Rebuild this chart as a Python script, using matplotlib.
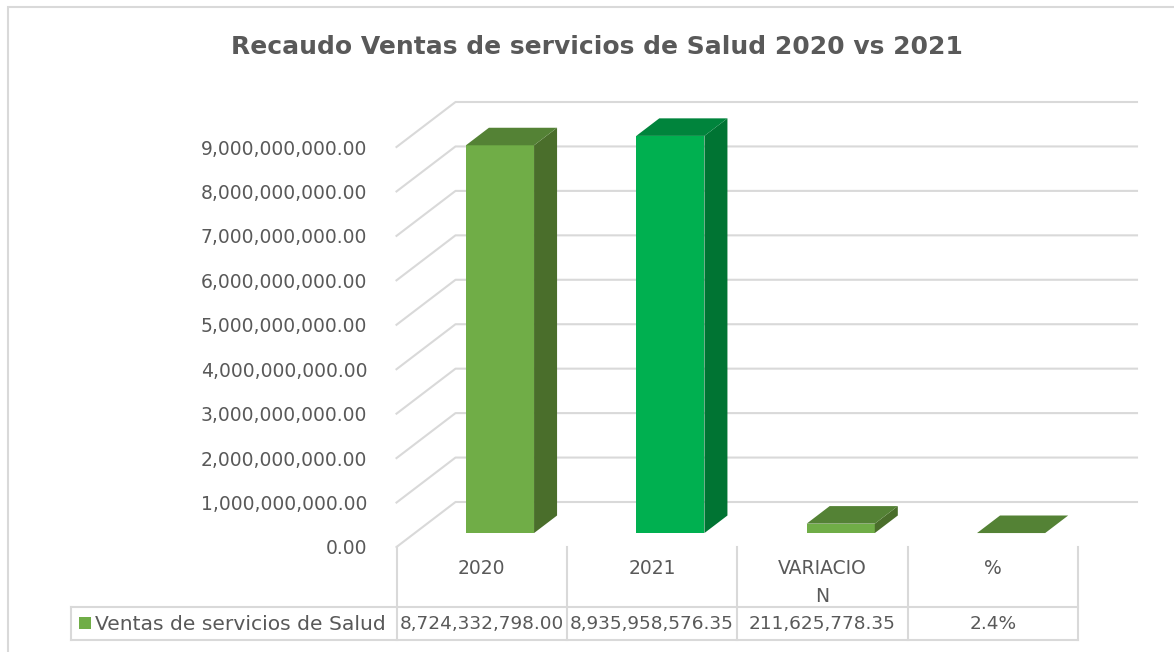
import numpy as np
import matplotlib
matplotlib.use("Agg")
import matplotlib.pyplot as plt
from matplotlib.patches import Polygon, Rectangle

TITLE = "Recaudo Ventas de servicios de Salud 2020 vs 2021"
SERIES = "Ventas de servicios de Salud"
categories = ["2020", "2021", "VARIACIO\nN", "%"]
values = [8724332798.00, 8935958576.35, 211625778.35, 0.024]
table_text = ["8,724,332,798.00", "8,935,958,576.35", "211,625,778.35", "2.4%"]
yticks = [0, 1e9, 2e9, 3e9, 4e9, 5e9, 6e9, 7e9, 8e9, 9e9]

# front / side / top colours per bar
FACE = ["#70AD47", "#00B050", "#70AD47", "#70AD47"]
SIDE = ["#4A6E2B", "#007433", "#4A6E2B", "#4A6E2B"]
TOP = ["#548235", "#00843C", "#548235", "#548235"]

GRID = "#D9D9D9"
TEXT = "#595959"
W, H = 1174, 652

fig = plt.figure(figsize=(W / 100, H / 100), dpi=100)
ax = fig.add_axes([396.5 / W, 105 / H, 681.5 / W, 400 / H])
ax.set_xlim(-0.5, 3.5)
ax.set_ylim(0, 9e9)
ax.set_facecolor("none")
for s in ax.spines.values():
    s.set_visible(False)

# depth offset of the 3d box, in data units
px_x = 681.5 / 4
px_y = 400 / 9e9
DZX = 59 / px_x
DZY = 45 / px_y


def pt(x, y, z):
    return (x + z * DZX, y + z * DZY)


# side wall + back wall gridlines
for v in yticks:
    xs, ys = zip(pt(-0.5, v, 0), pt(-0.5, v, 1), pt(3.5, v, 1))
    ax.plot(xs, ys, color=GRID, lw=1.5, clip_on=False, zorder=1)

BW = 0.40
Z0, Z1 = 0.31, 0.70
for i, val in enumerate(values):
    x0, x1 = i - BW / 2, i + BW / 2
    front = [pt(x0, 0, Z0), pt(x1, 0, Z0), pt(x1, val, Z0), pt(x0, val, Z0)]
    side = [pt(x1, 0, Z0), pt(x1, 0, Z1), pt(x1, val, Z1), pt(x1, val, Z0)]
    top = [pt(x0, val, Z0), pt(x1, val, Z0), pt(x1, val, Z1), pt(x0, val, Z1)]
    for poly, c in [(front, FACE[i]), (side, SIDE[i]), (top, TOP[i])]:
        ax.add_patch(Polygon(poly, closed=True, fc=c, ec="none",
                             clip_on=False, zorder=3))

ax.set_yticks(yticks, ["{:,.2f}".format(v) for v in yticks])
ax.set_xticks(range(len(categories)), categories)
ax.tick_params(axis="y", length=0, pad=21, labelsize=13.5, labelcolor=TEXT)
ax.tick_params(axis="x", length=0, pad=9, labelsize=13.5, labelcolor=TEXT)
for lab in ax.get_xticklabels():
    lab.set_linespacing(1.55)

# data table under the axis
tr = ax.get_xaxis_transform()
row_top = (547 - 607) / 400
row_bot = (547 - 640) / 400
leg_x = -0.5 + (71 - 396.5) / px_x
for b in np.arange(-0.5, 4, 1.0):
    ax.plot([b, b], [0, row_bot], color=GRID, lw=1.5, transform=tr, clip_on=False)
ax.plot([leg_x, leg_x], [row_top, row_bot], color=GRID, lw=1.5, transform=tr, clip_on=False)
for yy in (row_top, row_bot):
    ax.plot([leg_x, 3.5], [yy, yy], color=GRID, lw=1.5, transform=tr, clip_on=False)

row_mid = (547 - 624) / 400
for i, t in enumerate(table_text):
    ax.text(i, row_mid, t, ha="center", va="center", fontsize=13.3,
            color=TEXT, transform=tr, clip_on=False)

# legend key in the table
key_x = -0.5 + (79 - 396.5) / px_x
key_w = 12 / px_x
ax.add_patch(Rectangle((key_x, (547 - 629) / 400), key_w, 12 / 400,
                       transform=tr, fc=FACE[0], ec="none", clip_on=False))
ax.text(-0.5 + (95 - 396.5) / px_x, row_mid, SERIES, ha="left", va="center",
        fontsize=14.6, color=TEXT, transform=tr, clip_on=False)

fig.text(596.5 / W, 1 - 47 / H, TITLE, ha="center", va="center",
         fontsize=18, fontweight="bold", color=TEXT)

# chart area border
fig.patches.append(Rectangle((8 / W, -0.05), 1.1, 1 - 7 / H + 0.05,
                             transform=fig.transFigure, fill=False,
                             ec=GRID, lw=1.5))

fig.savefig("out.png", dpi=100)
